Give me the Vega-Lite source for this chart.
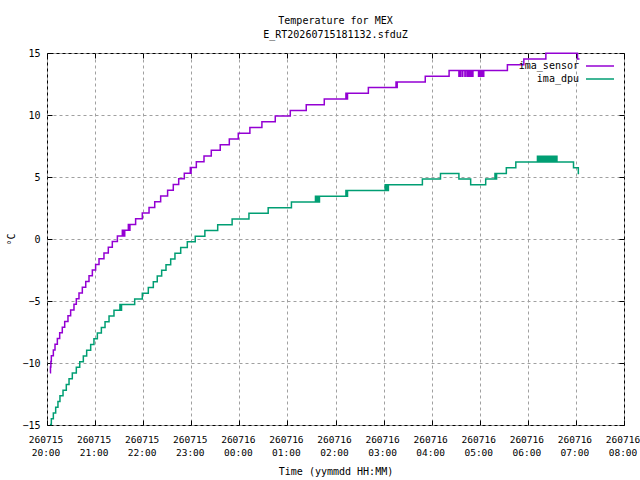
{
  "$schema": "https://vega.github.io/schema/vega-lite/v6.json",
  "width": 577,
  "height": 372,
  "autosize": {"type": "none"},
  "padding": {"left": 47, "top": 53, "right": 16, "bottom": 55},
  "background": "white",
  "config": {
    "font": "DejaVu Sans Mono",
    "view": {"stroke": "black", "strokeWidth": 1}
  },
  "title": {
    "text": ["Temperature for MEX", "E_RT20260715181132.sfduZ"],
    "fontSize": 10,
    "fontWeight": "normal",
    "lineHeight": 14,
    "color": "black",
    "anchor": "middle",
    "offset": 8
  },
  "data": {
    "values": [
      {"s": "ima_sensor", "t": "2026-07-15T20:03:40Z", "v": -10.79},
      {"s": "ima_sensor", "t": "2026-07-15T20:04:20Z", "v": -10.33},
      {"s": "ima_sensor", "t": "2026-07-15T20:04:50Z", "v": -9.87},
      {"s": "ima_sensor", "t": "2026-07-15T20:05:25Z", "v": -9.41},
      {"s": "ima_sensor", "t": "2026-07-15T20:07:55Z", "v": -8.95},
      {"s": "ima_sensor", "t": "2026-07-15T20:10:00Z", "v": -8.49},
      {"s": "ima_sensor", "t": "2026-07-15T20:12:55Z", "v": -8.03},
      {"s": "ima_sensor", "t": "2026-07-15T20:15:50Z", "v": -7.57},
      {"s": "ima_sensor", "t": "2026-07-15T20:19:05Z", "v": -7.11},
      {"s": "ima_sensor", "t": "2026-07-15T20:22:05Z", "v": -6.65},
      {"s": "ima_sensor", "t": "2026-07-15T20:26:10Z", "v": -6.19},
      {"s": "ima_sensor", "t": "2026-07-15T20:29:30Z", "v": -5.73},
      {"s": "ima_sensor", "t": "2026-07-15T20:33:40Z", "v": -5.27},
      {"s": "ima_sensor", "t": "2026-07-15T20:36:35Z", "v": -4.81},
      {"s": "ima_sensor", "t": "2026-07-15T20:39:55Z", "v": -4.35},
      {"s": "ima_sensor", "t": "2026-07-15T20:44:05Z", "v": -3.89},
      {"s": "ima_sensor", "t": "2026-07-15T20:48:20Z", "v": -3.43},
      {"s": "ima_sensor", "t": "2026-07-15T20:52:25Z", "v": -2.97},
      {"s": "ima_sensor", "t": "2026-07-15T20:56:35Z", "v": -2.51},
      {"s": "ima_sensor", "t": "2026-07-15T21:00:40Z", "v": -2.05},
      {"s": "ima_sensor", "t": "2026-07-15T21:04:55Z", "v": -1.59},
      {"s": "ima_sensor", "t": "2026-07-15T21:11:05Z", "v": -1.13},
      {"s": "ima_sensor", "t": "2026-07-15T21:16:30Z", "v": -0.67},
      {"s": "ima_sensor", "t": "2026-07-15T21:21:30Z", "v": -0.21},
      {"s": "ima_sensor", "t": "2026-07-15T21:27:50Z", "v": 0.25},
      {"s": "ima_sensor", "t": "2026-07-15T21:34:00Z", "v": 0.71},
      {"s": "ima_sensor", "t": "2026-07-15T21:34:30Z", "v": 0.25},
      {"s": "ima_sensor", "t": "2026-07-15T21:35:00Z", "v": 0.71},
      {"s": "ima_sensor", "t": "2026-07-15T21:35:30Z", "v": 0.25},
      {"s": "ima_sensor", "t": "2026-07-15T21:36:00Z", "v": 0.71},
      {"s": "ima_sensor", "t": "2026-07-15T21:36:30Z", "v": 0.25},
      {"s": "ima_sensor", "t": "2026-07-15T21:37:00Z", "v": 0.71},
      {"s": "ima_sensor", "t": "2026-07-15T21:41:30Z", "v": 1.17},
      {"s": "ima_sensor", "t": "2026-07-15T21:42:00Z", "v": 0.71},
      {"s": "ima_sensor", "t": "2026-07-15T21:42:30Z", "v": 1.17},
      {"s": "ima_sensor", "t": "2026-07-15T21:43:00Z", "v": 0.71},
      {"s": "ima_sensor", "t": "2026-07-15T21:43:30Z", "v": 1.17},
      {"s": "ima_sensor", "t": "2026-07-15T21:50:35Z", "v": 1.63},
      {"s": "ima_sensor", "t": "2026-07-15T21:58:55Z", "v": 2.09},
      {"s": "ima_sensor", "t": "2026-07-15T22:07:20Z", "v": 2.55},
      {"s": "ima_sensor", "t": "2026-07-15T22:14:25Z", "v": 3.01},
      {"s": "ima_sensor", "t": "2026-07-15T22:21:50Z", "v": 3.47},
      {"s": "ima_sensor", "t": "2026-07-15T22:30:30Z", "v": 3.93},
      {"s": "ima_sensor", "t": "2026-07-15T22:37:35Z", "v": 4.39},
      {"s": "ima_sensor", "t": "2026-07-15T22:44:20Z", "v": 4.85},
      {"s": "ima_sensor", "t": "2026-07-15T22:51:20Z", "v": 5.31},
      {"s": "ima_sensor", "t": "2026-07-15T22:58:50Z", "v": 5.77},
      {"s": "ima_sensor", "t": "2026-07-15T22:59:20Z", "v": 5.31},
      {"s": "ima_sensor", "t": "2026-07-15T22:59:50Z", "v": 5.77},
      {"s": "ima_sensor", "t": "2026-07-15T23:06:20Z", "v": 6.23},
      {"s": "ima_sensor", "t": "2026-07-15T23:15:55Z", "v": 6.69},
      {"s": "ima_sensor", "t": "2026-07-15T23:25:00Z", "v": 7.15},
      {"s": "ima_sensor", "t": "2026-07-15T23:36:10Z", "v": 7.61},
      {"s": "ima_sensor", "t": "2026-07-15T23:47:30Z", "v": 8.07},
      {"s": "ima_sensor", "t": "2026-07-15T23:58:40Z", "v": 8.53},
      {"s": "ima_sensor", "t": "2026-07-16T00:13:10Z", "v": 8.99},
      {"s": "ima_sensor", "t": "2026-07-16T00:28:10Z", "v": 9.45},
      {"s": "ima_sensor", "t": "2026-07-16T00:44:50Z", "v": 9.91},
      {"s": "ima_sensor", "t": "2026-07-16T01:03:35Z", "v": 10.37},
      {"s": "ima_sensor", "t": "2026-07-16T01:23:30Z", "v": 10.83},
      {"s": "ima_sensor", "t": "2026-07-16T01:46:00Z", "v": 11.29},
      {"s": "ima_sensor", "t": "2026-07-16T02:13:00Z", "v": 11.75},
      {"s": "ima_sensor", "t": "2026-07-16T02:13:30Z", "v": 11.29},
      {"s": "ima_sensor", "t": "2026-07-16T02:14:00Z", "v": 11.75},
      {"s": "ima_sensor", "t": "2026-07-16T02:14:30Z", "v": 11.29},
      {"s": "ima_sensor", "t": "2026-07-16T02:15:00Z", "v": 11.75},
      {"s": "ima_sensor", "t": "2026-07-16T02:41:00Z", "v": 12.21},
      {"s": "ima_sensor", "t": "2026-07-16T03:15:30Z", "v": 12.67},
      {"s": "ima_sensor", "t": "2026-07-16T03:16:00Z", "v": 12.21},
      {"s": "ima_sensor", "t": "2026-07-16T03:17:00Z", "v": 12.67},
      {"s": "ima_sensor", "t": "2026-07-16T03:52:00Z", "v": 13.13},
      {"s": "ima_sensor", "t": "2026-07-16T04:21:45Z", "v": 13.59},
      {"s": "ima_sensor", "t": "2026-07-16T04:34:00Z", "v": 13.13},
      {"s": "ima_sensor", "t": "2026-07-16T04:34:20Z", "v": 13.59},
      {"s": "ima_sensor", "t": "2026-07-16T04:36:00Z", "v": 13.13},
      {"s": "ima_sensor", "t": "2026-07-16T04:36:20Z", "v": 13.59},
      {"s": "ima_sensor", "t": "2026-07-16T04:38:30Z", "v": 13.13},
      {"s": "ima_sensor", "t": "2026-07-16T04:38:50Z", "v": 13.59},
      {"s": "ima_sensor", "t": "2026-07-16T04:41:30Z", "v": 13.13},
      {"s": "ima_sensor", "t": "2026-07-16T04:41:50Z", "v": 13.59},
      {"s": "ima_sensor", "t": "2026-07-16T04:44:00Z", "v": 13.13},
      {"s": "ima_sensor", "t": "2026-07-16T04:44:30Z", "v": 13.59},
      {"s": "ima_sensor", "t": "2026-07-16T04:45:00Z", "v": 13.13},
      {"s": "ima_sensor", "t": "2026-07-16T04:45:30Z", "v": 13.59},
      {"s": "ima_sensor", "t": "2026-07-16T04:46:00Z", "v": 13.13},
      {"s": "ima_sensor", "t": "2026-07-16T04:46:30Z", "v": 13.59},
      {"s": "ima_sensor", "t": "2026-07-16T04:47:00Z", "v": 13.13},
      {"s": "ima_sensor", "t": "2026-07-16T04:47:30Z", "v": 13.59},
      {"s": "ima_sensor", "t": "2026-07-16T04:48:00Z", "v": 13.13},
      {"s": "ima_sensor", "t": "2026-07-16T04:48:30Z", "v": 13.59},
      {"s": "ima_sensor", "t": "2026-07-16T04:49:00Z", "v": 13.13},
      {"s": "ima_sensor", "t": "2026-07-16T04:49:30Z", "v": 13.59},
      {"s": "ima_sensor", "t": "2026-07-16T04:50:00Z", "v": 13.13},
      {"s": "ima_sensor", "t": "2026-07-16T04:50:30Z", "v": 13.59},
      {"s": "ima_sensor", "t": "2026-07-16T04:51:00Z", "v": 13.13},
      {"s": "ima_sensor", "t": "2026-07-16T04:51:30Z", "v": 13.59},
      {"s": "ima_sensor", "t": "2026-07-16T04:58:30Z", "v": 13.13},
      {"s": "ima_sensor", "t": "2026-07-16T04:59:00Z", "v": 13.59},
      {"s": "ima_sensor", "t": "2026-07-16T04:59:30Z", "v": 13.13},
      {"s": "ima_sensor", "t": "2026-07-16T05:00:00Z", "v": 13.59},
      {"s": "ima_sensor", "t": "2026-07-16T05:00:30Z", "v": 13.13},
      {"s": "ima_sensor", "t": "2026-07-16T05:01:00Z", "v": 13.59},
      {"s": "ima_sensor", "t": "2026-07-16T05:01:30Z", "v": 13.13},
      {"s": "ima_sensor", "t": "2026-07-16T05:02:00Z", "v": 13.59},
      {"s": "ima_sensor", "t": "2026-07-16T05:02:30Z", "v": 13.13},
      {"s": "ima_sensor", "t": "2026-07-16T05:03:00Z", "v": 13.59},
      {"s": "ima_sensor", "t": "2026-07-16T05:03:30Z", "v": 13.13},
      {"s": "ima_sensor", "t": "2026-07-16T05:04:00Z", "v": 13.59},
      {"s": "ima_sensor", "t": "2026-07-16T05:04:30Z", "v": 13.13},
      {"s": "ima_sensor", "t": "2026-07-16T05:05:00Z", "v": 13.59},
      {"s": "ima_sensor", "t": "2026-07-16T05:34:30Z", "v": 14.05},
      {"s": "ima_sensor", "t": "2026-07-16T05:55:00Z", "v": 14.51},
      {"s": "ima_sensor", "t": "2026-07-16T06:22:30Z", "v": 14.97},
      {"s": "ima_sensor", "t": "2026-07-16T07:02:00Z", "v": 14.51},
      {"s": "ima_sensor", "t": "2026-07-16T07:04:30Z", "v": 14.51},
      {"s": "ima_dpu", "t": "2026-07-15T20:03:40Z", "v": -14.95},
      {"s": "ima_dpu", "t": "2026-07-15T20:05:25Z", "v": -14.49},
      {"s": "ima_dpu", "t": "2026-07-15T20:07:55Z", "v": -14.03},
      {"s": "ima_dpu", "t": "2026-07-15T20:10:50Z", "v": -13.57},
      {"s": "ima_dpu", "t": "2026-07-15T20:13:40Z", "v": -13.11},
      {"s": "ima_dpu", "t": "2026-07-15T20:16:10Z", "v": -12.65},
      {"s": "ima_dpu", "t": "2026-07-15T20:20:00Z", "v": -12.19},
      {"s": "ima_dpu", "t": "2026-07-15T20:24:05Z", "v": -11.73},
      {"s": "ima_dpu", "t": "2026-07-15T20:27:30Z", "v": -11.27},
      {"s": "ima_dpu", "t": "2026-07-15T20:31:35Z", "v": -10.81},
      {"s": "ima_dpu", "t": "2026-07-15T20:36:35Z", "v": -10.35},
      {"s": "ima_dpu", "t": "2026-07-15T20:40:50Z", "v": -9.89},
      {"s": "ima_dpu", "t": "2026-07-15T20:45:20Z", "v": -9.43},
      {"s": "ima_dpu", "t": "2026-07-15T20:49:30Z", "v": -8.97},
      {"s": "ima_dpu", "t": "2026-07-15T20:54:30Z", "v": -8.51},
      {"s": "ima_dpu", "t": "2026-07-15T20:58:35Z", "v": -8.05},
      {"s": "ima_dpu", "t": "2026-07-15T21:02:50Z", "v": -7.59},
      {"s": "ima_dpu", "t": "2026-07-15T21:07:50Z", "v": -7.13},
      {"s": "ima_dpu", "t": "2026-07-15T21:12:25Z", "v": -6.67},
      {"s": "ima_dpu", "t": "2026-07-15T21:17:25Z", "v": -6.21},
      {"s": "ima_dpu", "t": "2026-07-15T21:23:35Z", "v": -5.75},
      {"s": "ima_dpu", "t": "2026-07-15T21:31:00Z", "v": -5.29},
      {"s": "ima_dpu", "t": "2026-07-15T21:31:30Z", "v": -5.75},
      {"s": "ima_dpu", "t": "2026-07-15T21:32:00Z", "v": -5.29},
      {"s": "ima_dpu", "t": "2026-07-15T21:32:30Z", "v": -5.75},
      {"s": "ima_dpu", "t": "2026-07-15T21:33:00Z", "v": -5.29},
      {"s": "ima_dpu", "t": "2026-07-15T21:49:25Z", "v": -4.83},
      {"s": "ima_dpu", "t": "2026-07-15T21:58:55Z", "v": -4.37},
      {"s": "ima_dpu", "t": "2026-07-15T22:06:25Z", "v": -3.91},
      {"s": "ima_dpu", "t": "2026-07-15T22:12:40Z", "v": -3.45},
      {"s": "ima_dpu", "t": "2026-07-15T22:17:35Z", "v": -2.99},
      {"s": "ima_dpu", "t": "2026-07-15T22:23:05Z", "v": -2.53},
      {"s": "ima_dpu", "t": "2026-07-15T22:28:30Z", "v": -2.07},
      {"s": "ima_dpu", "t": "2026-07-15T22:34:20Z", "v": -1.61},
      {"s": "ima_dpu", "t": "2026-07-15T22:39:40Z", "v": -1.15},
      {"s": "ima_dpu", "t": "2026-07-15T22:46:50Z", "v": -0.69},
      {"s": "ima_dpu", "t": "2026-07-15T22:55:05Z", "v": -0.23},
      {"s": "ima_dpu", "t": "2026-07-15T23:05:00Z", "v": 0.23},
      {"s": "ima_dpu", "t": "2026-07-15T23:17:00Z", "v": 0.69},
      {"s": "ima_dpu", "t": "2026-07-15T23:33:00Z", "v": 1.15},
      {"s": "ima_dpu", "t": "2026-07-15T23:51:00Z", "v": 1.61},
      {"s": "ima_dpu", "t": "2026-07-16T00:12:00Z", "v": 2.07},
      {"s": "ima_dpu", "t": "2026-07-16T00:36:00Z", "v": 2.53},
      {"s": "ima_dpu", "t": "2026-07-16T01:05:00Z", "v": 2.99},
      {"s": "ima_dpu", "t": "2026-07-16T01:35:00Z", "v": 3.45},
      {"s": "ima_dpu", "t": "2026-07-16T01:35:30Z", "v": 2.99},
      {"s": "ima_dpu", "t": "2026-07-16T01:36:00Z", "v": 3.45},
      {"s": "ima_dpu", "t": "2026-07-16T01:36:30Z", "v": 2.99},
      {"s": "ima_dpu", "t": "2026-07-16T01:37:00Z", "v": 3.45},
      {"s": "ima_dpu", "t": "2026-07-16T01:37:30Z", "v": 2.99},
      {"s": "ima_dpu", "t": "2026-07-16T01:38:00Z", "v": 3.45},
      {"s": "ima_dpu", "t": "2026-07-16T01:38:30Z", "v": 2.99},
      {"s": "ima_dpu", "t": "2026-07-16T01:39:00Z", "v": 3.45},
      {"s": "ima_dpu", "t": "2026-07-16T01:39:30Z", "v": 2.99},
      {"s": "ima_dpu", "t": "2026-07-16T01:40:00Z", "v": 3.45},
      {"s": "ima_dpu", "t": "2026-07-16T02:13:00Z", "v": 3.91},
      {"s": "ima_dpu", "t": "2026-07-16T02:13:30Z", "v": 3.45},
      {"s": "ima_dpu", "t": "2026-07-16T02:14:00Z", "v": 3.91},
      {"s": "ima_dpu", "t": "2026-07-16T02:14:30Z", "v": 3.45},
      {"s": "ima_dpu", "t": "2026-07-16T02:15:00Z", "v": 3.91},
      {"s": "ima_dpu", "t": "2026-07-16T03:02:00Z", "v": 4.37},
      {"s": "ima_dpu", "t": "2026-07-16T03:02:30Z", "v": 3.91},
      {"s": "ima_dpu", "t": "2026-07-16T03:03:00Z", "v": 4.37},
      {"s": "ima_dpu", "t": "2026-07-16T03:03:30Z", "v": 3.91},
      {"s": "ima_dpu", "t": "2026-07-16T03:04:00Z", "v": 4.37},
      {"s": "ima_dpu", "t": "2026-07-16T03:04:30Z", "v": 3.91},
      {"s": "ima_dpu", "t": "2026-07-16T03:05:00Z", "v": 4.37},
      {"s": "ima_dpu", "t": "2026-07-16T03:05:30Z", "v": 3.91},
      {"s": "ima_dpu", "t": "2026-07-16T03:06:00Z", "v": 4.37},
      {"s": "ima_dpu", "t": "2026-07-16T03:48:25Z", "v": 4.83},
      {"s": "ima_dpu", "t": "2026-07-16T04:11:00Z", "v": 5.29},
      {"s": "ima_dpu", "t": "2026-07-16T04:34:00Z", "v": 4.83},
      {"s": "ima_dpu", "t": "2026-07-16T04:48:40Z", "v": 4.37},
      {"s": "ima_dpu", "t": "2026-07-16T05:07:25Z", "v": 4.83},
      {"s": "ima_dpu", "t": "2026-07-16T05:19:00Z", "v": 5.29},
      {"s": "ima_dpu", "t": "2026-07-16T05:19:30Z", "v": 4.83},
      {"s": "ima_dpu", "t": "2026-07-16T05:20:00Z", "v": 5.29},
      {"s": "ima_dpu", "t": "2026-07-16T05:20:30Z", "v": 4.83},
      {"s": "ima_dpu", "t": "2026-07-16T05:21:00Z", "v": 5.29},
      {"s": "ima_dpu", "t": "2026-07-16T05:33:10Z", "v": 5.75},
      {"s": "ima_dpu", "t": "2026-07-16T05:45:00Z", "v": 6.21},
      {"s": "ima_dpu", "t": "2026-07-16T06:12:00Z", "v": 6.67},
      {"s": "ima_dpu", "t": "2026-07-16T06:12:30Z", "v": 6.21},
      {"s": "ima_dpu", "t": "2026-07-16T06:13:00Z", "v": 6.67},
      {"s": "ima_dpu", "t": "2026-07-16T06:13:30Z", "v": 6.21},
      {"s": "ima_dpu", "t": "2026-07-16T06:14:00Z", "v": 6.67},
      {"s": "ima_dpu", "t": "2026-07-16T06:14:30Z", "v": 6.21},
      {"s": "ima_dpu", "t": "2026-07-16T06:15:00Z", "v": 6.67},
      {"s": "ima_dpu", "t": "2026-07-16T06:15:30Z", "v": 6.21},
      {"s": "ima_dpu", "t": "2026-07-16T06:16:00Z", "v": 6.67},
      {"s": "ima_dpu", "t": "2026-07-16T06:16:30Z", "v": 6.21},
      {"s": "ima_dpu", "t": "2026-07-16T06:17:00Z", "v": 6.67},
      {"s": "ima_dpu", "t": "2026-07-16T06:17:30Z", "v": 6.21},
      {"s": "ima_dpu", "t": "2026-07-16T06:18:00Z", "v": 6.67},
      {"s": "ima_dpu", "t": "2026-07-16T06:18:30Z", "v": 6.21},
      {"s": "ima_dpu", "t": "2026-07-16T06:19:00Z", "v": 6.67},
      {"s": "ima_dpu", "t": "2026-07-16T06:19:30Z", "v": 6.21},
      {"s": "ima_dpu", "t": "2026-07-16T06:20:00Z", "v": 6.67},
      {"s": "ima_dpu", "t": "2026-07-16T06:20:30Z", "v": 6.21},
      {"s": "ima_dpu", "t": "2026-07-16T06:22:00Z", "v": 6.67},
      {"s": "ima_dpu", "t": "2026-07-16T06:22:30Z", "v": 6.21},
      {"s": "ima_dpu", "t": "2026-07-16T06:23:00Z", "v": 6.67},
      {"s": "ima_dpu", "t": "2026-07-16T06:23:30Z", "v": 6.21},
      {"s": "ima_dpu", "t": "2026-07-16T06:24:00Z", "v": 6.67},
      {"s": "ima_dpu", "t": "2026-07-16T06:24:30Z", "v": 6.21},
      {"s": "ima_dpu", "t": "2026-07-16T06:25:00Z", "v": 6.67},
      {"s": "ima_dpu", "t": "2026-07-16T06:25:30Z", "v": 6.21},
      {"s": "ima_dpu", "t": "2026-07-16T06:26:00Z", "v": 6.67},
      {"s": "ima_dpu", "t": "2026-07-16T06:26:30Z", "v": 6.21},
      {"s": "ima_dpu", "t": "2026-07-16T06:27:00Z", "v": 6.67},
      {"s": "ima_dpu", "t": "2026-07-16T06:27:30Z", "v": 6.21},
      {"s": "ima_dpu", "t": "2026-07-16T06:28:00Z", "v": 6.67},
      {"s": "ima_dpu", "t": "2026-07-16T06:28:30Z", "v": 6.21},
      {"s": "ima_dpu", "t": "2026-07-16T06:29:00Z", "v": 6.67},
      {"s": "ima_dpu", "t": "2026-07-16T06:29:30Z", "v": 6.21},
      {"s": "ima_dpu", "t": "2026-07-16T06:30:00Z", "v": 6.67},
      {"s": "ima_dpu", "t": "2026-07-16T06:30:30Z", "v": 6.21},
      {"s": "ima_dpu", "t": "2026-07-16T06:31:00Z", "v": 6.67},
      {"s": "ima_dpu", "t": "2026-07-16T06:31:30Z", "v": 6.21},
      {"s": "ima_dpu", "t": "2026-07-16T06:32:00Z", "v": 6.67},
      {"s": "ima_dpu", "t": "2026-07-16T06:32:30Z", "v": 6.21},
      {"s": "ima_dpu", "t": "2026-07-16T06:34:00Z", "v": 6.67},
      {"s": "ima_dpu", "t": "2026-07-16T06:34:20Z", "v": 6.21},
      {"s": "ima_dpu", "t": "2026-07-16T06:36:00Z", "v": 6.67},
      {"s": "ima_dpu", "t": "2026-07-16T06:36:20Z", "v": 6.21},
      {"s": "ima_dpu", "t": "2026-07-16T06:57:00Z", "v": 5.75},
      {"s": "ima_dpu", "t": "2026-07-16T07:03:00Z", "v": 5.29},
      {"s": "ima_dpu", "t": "2026-07-16T07:04:00Z", "v": 5.29}
    ]
  },
  "layer": [
    {
      "transform": [{"filter": "datum.s == 'ima_sensor'"}],
      "mark": {"type": "line", "interpolate": "step-after", "strokeWidth": 1.5},
      "encoding": {
        "x": {
          "field": "t",
          "type": "temporal",
          "scale": {"type": "utc", "domain": [{"year": 2026, "month": 7, "date": 15, "hours": 20, "utc": true}, {"year": 2026, "month": 7, "date": 16, "hours": 8, "utc": true}]},
          "axis": {
            "orient": "bottom",
            "title": "Time (yymmdd HH:MM)",
            "titleFontSize": 10,
            "titleFontWeight": "normal",
            "titleColor": "black",
            "titlePadding": 10,
            "domain": false,
            "tickCount": 12,
            "labelExpr": "[utcFormat(datum.value, '%y%m%d'), utcFormat(datum.value, '%H:%M')]",
            "labelFontSize": 9.5,
            "labelColor": "black",
            "labelLineHeight": 13,
            "labelPadding": 14,
            "labelOffset": -1.5,
            "labelFlush": false,
            "labelOverlap": false,
            "tickSize": -5,
            "tickColor": "black",
            "grid": true,
            "gridColor": "#a0a0a0",
            "gridDash": [3, 3],
            "gridWidth": 1
          }
        },
        "y": {
          "field": "v",
          "type": "quantitative",
          "scale": {"domain": [-15, 15], "nice": false},
          "axis": {
            "orient": "left",
            "title": "°C",
            "titleFontSize": 10,
            "titleFontWeight": "normal",
            "titleColor": "black",
            "titlePadding": 5,
            "domain": false,
            "values": [-15, -10, -5, 0, 5, 10, 15],
            "labelFontSize": 10,
            "labelColor": "black",
            "labelPadding": 12,
            "tickSize": -5,
            "tickColor": "black",
            "grid": true,
            "gridColor": "#a0a0a0",
            "gridDash": [3, 3],
            "gridWidth": 1
          }
        },
        "color": {
          "field": "s",
          "type": "nominal",
          "scale": {"domain": ["ima_sensor", "ima_dpu"], "range": ["#9400d3", "#009e73"]},
          "legend": {
            "title": null,
            "orient": "top-right",
            "offset": 7,
            "padding": 0,
            "symbolType": "M-1,0H4.6",
            "symbolSize": 100,
            "symbolStrokeWidth": 1.5,
            "labelAlign": "right",
            "labelOffset": -18,
            "labelFontSize": 10,
            "labelColor": "black",
            "rowPadding": 2
          }
        }
      }
    },
    {
      "transform": [{"filter": "datum.s == 'ima_dpu'"}],
      "mark": {"type": "line", "interpolate": "step-after", "strokeWidth": 1.5},
      "encoding": {
        "x": {
          "field": "t",
          "type": "temporal",
          "axis": {"orient": "top", "title": null, "labels": false, "domain": false, "grid": false, "tickCount": 12, "tickSize": -5, "tickColor": "black"}
        },
        "y": {
          "field": "v",
          "type": "quantitative",
          "axis": {"orient": "right", "title": null, "labels": false, "domain": false, "grid": false, "values": [-15, -10, -5, 0, 5, 10, 15], "tickSize": -5, "tickColor": "black"}
        },
        "color": {"field": "s", "type": "nominal"}
      }
    }
  ],
  "resolve": {"axis": {"x": "independent", "y": "independent"}}
}
